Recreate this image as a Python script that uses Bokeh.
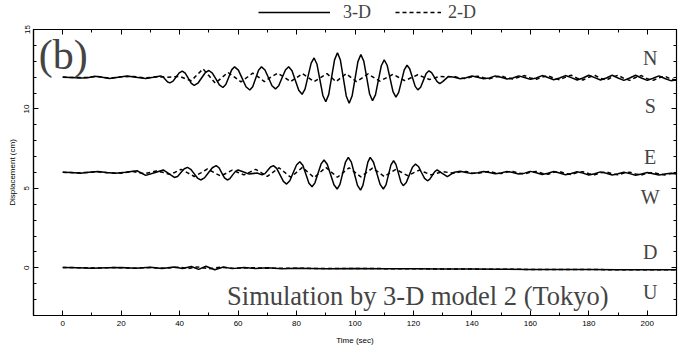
from bokeh.plotting import figure
from bokeh.models import (Range1d, SingleIntervalTicker, LinearAxis, Label, Legend, LegendItem,
                          CustomJSTickFormatter)
from bokeh.layouts import column
from bokeh.embed import file_html
from bokeh.resources import INLINE

# ---------------- data ----------------
# N-S component, offset 12 cm
ns3_t = [0, 3, 6, 8.5, 11, 13.5, 16, 19, 22, 25, 28.4, 31, 33.5, 34.3, 35.1, 35.9, 36.7,
         37.75, 38.8, 39.85, 40.9, 41.9, 43.0, 44.0, 45.0, 46.25, 47.5, 48.75, 50.0,
         51.2, 52.4, 53.6, 54.8, 55.8, 56.8, 57.8, 58.8, 60.1, 61.4, 62.7, 64.0,
         65, 66, 67, 68, 69.2, 70.4, 71.6, 72.8, 73.9, 75.05, 76.2, 77.3,
         78.45, 79.6, 80.75, 81.9, 82.9, 83.95, 85.0, 86, 87, 88, 89, 90,
         91, 92, 93, 94, 95, 96, 97, 98, 99, 100, 101, 102, 103, 104, 105, 106,
         107, 108, 109, 110, 111, 112, 113, 114, 114.95, 115.9, 116.85, 117.8,
         118.7, 119.65, 120.6, 121.5, 122.45, 123.4, 124.35, 125.3, 126.2, 127.15, 128.1, 129,
         130, 132, 134, 136, 138, 140, 142, 144, 146, 148, 150, 152, 154, 156, 158, 160,
         162, 164, 166, 168, 170, 172, 174, 176, 178, 180, 182, 184, 186, 188, 190, 192,
         194, 196, 198, 200, 202, 204, 206, 208, 210]
ns3_v = [12.00, 11.98, 11.94, 11.97, 12.06, 12.00, 11.92, 12.00, 12.08, 12.00, 11.92, 12.00, 12.08, 12.02, 11.86, 11.70, 11.64,
         11.75, 12.01, 12.27, 12.38, 12.25, 11.93, 11.61, 11.48, 11.62, 11.95, 12.28, 12.42,
         12.26, 11.89, 11.51, 11.35, 11.54, 12.00, 12.46, 12.65, 12.44, 11.92, 11.40, 11.19,
         11.40, 11.92, 12.44, 12.65, 12.45, 11.96, 11.46, 11.26, 11.46, 11.96, 12.45, 12.65,
         12.40, 11.79, 11.17, 10.92, 11.25, 12.07, 12.88, 13.21, 12.81, 11.83, 10.85, 10.45,
         10.90, 12.00, 13.09, 13.54, 13.08, 11.95, 10.82, 10.36, 10.81, 11.90, 12.98, 13.43, 13.01, 11.98, 10.94, 10.52,
         10.89, 11.81, 12.72, 13.09, 12.75, 11.92, 11.09, 10.75, 11.04, 11.75, 12.46, 12.75,
         12.53, 11.98, 11.42, 11.20, 11.37, 11.80, 12.23, 12.40, 12.28, 12.00, 11.72, 11.60,
         11.72, 12.05, 12.00, 11.90, 11.96, 12.07, 12.00, 11.90, 11.95, 12.08, 12.00, 11.88, 11.95, 12.08, 11.98, 11.86,
         11.95, 12.10, 11.98, 11.84, 11.95, 12.10, 11.97, 11.82, 11.95, 12.12, 11.97, 11.82, 11.95, 12.12, 11.95, 11.80,
         11.95, 12.12, 11.95, 11.80, 11.93, 12.08, 11.92, 11.78, 11.82]

ns2_t = [0, 4, 8, 12, 16, 20, 24, 28, 32, 36, 40, 42, 44, 46, 48, 50, 52.2, 54.3, 56.5, 58.8,
         61, 63, 65, 67, 69, 71.2, 73.5, 75.8, 78, 80, 82, 84, 86, 88.2, 90.4, 92, 93.5, 95.2,
         97, 98.7, 100.5, 102.5, 104.5, 106.5, 108.5, 110.7, 113, 115, 117, 119.2, 121.5, 123.5,
         125.5, 127.3, 129, 132, 134, 136, 138, 140, 142, 144, 146, 148, 150, 152, 154, 156,
         158, 160, 162, 164, 166, 168, 170, 172, 174, 176, 178, 180, 182, 184, 186, 188, 190,
         192, 194, 196, 198, 200, 202, 204, 206, 208, 210]
ns2_v = [12.01, 11.97, 11.98, 12.04, 11.94, 12.02, 12.05, 11.95, 12.02, 12.00, 12.05, 11.90, 11.78, 12.15, 12.52, 12.10, 11.62, 11.95, 12.30, 12.00,
         11.70, 11.98, 12.25, 12.00, 11.72, 12.00, 12.25, 12.00, 11.72, 11.97, 12.22, 11.97, 11.72, 11.97, 12.22, 11.97, 11.72, 11.97,
         12.22, 11.97, 11.72, 11.96, 12.20, 11.97, 11.75, 11.96, 12.18, 11.98, 11.78, 11.96, 12.15, 12.00,
         11.85, 11.95, 12.05, 12.02, 12.04, 11.94, 11.92, 12.02, 12.06, 11.96, 11.90, 12.00, 12.08, 11.95, 11.88, 12.00,
         12.10, 11.95, 11.86, 12.00, 12.10, 11.94, 11.84, 12.00, 12.12, 11.93, 11.82, 12.00, 12.12, 11.92, 11.82, 12.00, 12.12,
         11.92, 11.80, 11.98, 12.10, 11.90, 11.80, 11.96, 12.06, 11.88, 11.82]

# E-W component, offset 6 cm
ew3_t = [0, 3, 6, 9, 12, 15, 18, 21.5, 25.4, 28.4, 31.4, 34.4, 36.3, 38.2, 39.3, 40.45, 41.6, 42.7,
         43.8, 44.95, 46.1, 47.2, 48.5, 49.85, 51.2, 52.5, 53.45, 54.4, 55.35, 56.3, 57.2, 58.15, 59.1, 60,
         61.9, 63.8, 66.5, 68.2, 69.2, 70.15, 71.1, 72.1, 73.2, 74.35, 75.5, 76.6, 77.7, 78.85, 80.0, 81.1,
         82.15, 83.2, 84.25, 85.3, 86.3, 87.35, 88.4, 89.4, 90.5, 91.65, 92.8, 93.9, 94.85, 95.8, 96.75, 97.7,
         98.75, 99.8, 100.85, 101.9, 102.7, 103.55, 104.4, 105.2, 106.3, 107.45, 108.6, 109.7,
         110.6, 111.45, 112.3, 113.2, 114.0, 114.85, 115.7, 116.5, 117.55, 118.6, 119.65, 120.7,
         121.7, 122.75, 123.8, 124.8, 125.6, 126.45, 127.3, 128.1, 129.85, 131.6,
         134, 136, 138, 140, 142, 144, 146, 148, 150, 152, 154, 156, 158, 160, 162, 164, 166, 168,
         170, 172, 174, 176, 178, 180, 182, 184, 186, 188, 190, 192, 194, 196, 198, 200, 202, 204, 206, 208, 210]
ew3_v = [6.02, 6.00, 5.96, 6.02, 6.06, 6.00, 5.95, 6.02, 6.11, 5.82, 5.99, 6.16, 5.93, 5.69, 5.75, 6.00, 6.24, 6.32,
         6.20, 5.93, 5.65, 5.53, 5.66, 5.98, 6.30, 6.43, 6.30, 5.98, 5.66, 5.53, 5.62, 5.85, 6.07, 6.16,
         6.03, 5.90, 5.97, 5.85, 5.93, 6.14, 6.35, 6.43, 6.26, 5.85, 5.44, 5.27, 5.48, 5.98, 6.47, 6.68,
         6.45, 5.89, 5.33, 5.10, 5.35, 5.95, 6.54, 6.79, 6.52, 5.88, 5.23, 4.96, 5.25, 5.96, 6.66, 6.95,
         6.65, 5.92, 5.19, 4.89, 5.19, 5.92, 6.65, 6.95, 6.66, 5.96, 5.25, 4.96,
         5.22, 5.85, 6.48, 6.74, 6.51, 5.96, 5.40, 5.17, 5.37, 5.85, 6.33, 6.53,
         6.38, 6.00, 5.63, 5.48, 5.58, 5.82, 6.06, 6.16, 5.95, 5.74,
         6.02, 6.08, 6.00, 5.93, 5.98, 6.06, 6.00, 5.92, 5.97, 6.07, 6.00, 5.90, 5.96, 6.07, 5.98, 5.88, 5.95, 6.06,
         5.97, 5.86, 5.94, 6.05, 5.96, 5.84, 5.92, 6.04, 5.95, 5.84, 5.92, 6.02, 5.93, 5.83, 5.90, 6.00, 5.92, 5.84, 5.90, 5.95, 5.90]

ew2_t = [0, 4, 8, 12, 16, 20, 24, 28, 32, 34.5, 36.5, 38.5, 40.5, 42.75, 45, 47.25, 49.5, 51.75, 54,
         56, 58, 60, 62, 64, 66, 68, 70, 72, 74, 76, 78, 80, 82, 84, 86, 88, 90, 92, 94, 96, 98,
         100, 102, 104, 106, 108, 110, 112, 114, 116, 118, 120, 122, 124, 126, 128, 130, 132, 134,
         136, 138, 140, 142, 144, 146, 148, 150, 152, 154, 156, 158, 160, 162, 164, 166, 168, 170,
         172, 174, 176, 178, 180, 182, 184, 186, 188, 190, 192, 194, 196, 198, 200, 202, 204, 206, 208, 210]
ew2_v = [6.02, 5.98, 6.00, 6.04, 5.98, 5.96, 6.06, 5.92, 6.10, 6.00, 5.88, 6.02, 6.20, 5.98, 5.75, 5.98, 6.22, 6.00, 5.78,
         5.96, 6.15, 6.00, 5.85, 6.02, 6.20, 5.98, 5.75, 6.02, 6.30, 6.00, 5.70, 6.01, 6.32, 6.00, 5.68, 6.00, 6.32, 6.01, 5.70, 6.00, 6.30,
         6.01, 5.72, 6.00, 6.28, 6.02, 5.75, 5.98, 6.20, 6.00, 5.80, 5.98, 6.15, 6.00, 5.85, 5.95, 6.05, 6.00, 5.95,
         6.04, 6.06, 5.97, 5.94, 6.02, 6.07, 5.97, 5.93, 6.03, 6.07, 5.96, 5.91, 6.02, 6.07, 5.95, 5.89, 6.01, 6.06,
         5.94, 5.87, 6.00, 6.05, 5.93, 5.86, 5.98, 6.04, 5.92, 5.85, 5.97, 6.02, 5.91, 5.84, 5.95, 6.00, 5.90, 5.85, 5.93, 5.94, 5.90]

# U-D component, offset 0 cm
ud3_t = [0, 5, 10, 15, 20, 25, 30, 34, 38, 41, 44, 46.5, 49, 52, 55, 58, 62, 66, 70, 75, 80,
         90, 100, 110, 120, 130, 140, 150, 160, 170, 180, 190, 200, 210]
ud3_v = [0.02, 0.00, -0.02, 0.00, 0.02, -0.03, 0.03, -0.04, 0.05, -0.04, 0.08, -0.10, 0.10, -0.12, 0.05, -0.05, 0.02, -0.04, 0.00, -0.05, -0.02,
         -0.05, -0.04, -0.05, -0.06, -0.07, -0.08, -0.09, -0.10, -0.10, -0.11, -0.12, -0.12, -0.12]
ud2_t = [0, 6, 12, 18, 24, 30, 35, 40, 43, 46, 50, 54, 58, 64, 70, 80, 90, 100, 120, 140, 160, 180, 200, 210]
ud2_v = [0.02, 0.01, -0.01, 0.02, -0.02, 0.02, -0.03, 0.04, -0.05, 0.06, -0.06, 0.04, -0.03, 0.01, -0.03, -0.03, -0.04, -0.04,
         -0.06, -0.08, -0.10, -0.11, -0.12, -0.12]

x_ticks_major = 20
y_ticks_major = 5
legend_labels = ["3-D", "2-D"]
comp_labels = ["N", "S", "E", "W", "D", "U"]
comp_y = [13.2, 10.2, 6.95, 4.45, 1.0, -1.55]
caption = "Simulation by 3-D model 2 (Tokyo)"

sans = "Liberation Sans"
serif = "Liberation Serif"
lw = 1.5
dash = "4 3"

# ---------------- legend strip (top) ----------------
LH = 24
lf = figure(width=689, height=LH, output_backend="svg", toolbar_location=None,
            x_range=Range1d(0, 689), y_range=Range1d(0, LH),
            x_axis_location=None, y_axis_location=None,
            min_border=0, min_border_left=0, min_border_right=0, min_border_top=0, min_border_bottom=0)
lf.grid.visible = False
lf.outline_line_color = None
lf.background_fill_color = "white"
lf.border_fill_color = "white"
# legend keys only: their data lie off the visible strip
g3 = lf.line(x=[-20, -10], y=[-20, -20], line_color="black", line_width=lw)
g2 = lf.line(x=[-20, -10], y=[-20, -20], line_color="black", line_width=lw, line_dash=dash)
leg_style = dict(orientation="horizontal", label_text_font=serif, label_text_font_size="18px",
                 glyph_height=20, label_height=20,
                 padding=0, margin=0, border_line_color=None, background_fill_alpha=0)
lf.add_layout(Legend(items=[LegendItem(label=legend_labels[0], renderers=[g3])],
                     location=(225, 1.5), glyph_width=72, label_standoff=13, **leg_style))
lf.add_layout(Legend(items=[LegendItem(label=legend_labels[1], renderers=[g2])],
                     location=(362, 1.5), glyph_width=46, label_standoff=7, **leg_style))

# ---------------- main figure ----------------
p = figure(width=689, height=353 - LH, output_backend="svg", toolbar_location=None,
           x_range=Range1d(-10, 210), y_range=Range1d(-3, 15),
           min_border_left=33, min_border_right=13, min_border_top=29 - LH, min_border_bottom=38,
           x_axis_label="Time (sec)", y_axis_label="Displacement (cm)")
p.background_fill_color = "white"
p.border_fill_color = "white"
p.grid.visible = False
p.outline_line_color = "black"
p.outline_line_width = 1.2

p.xaxis.ticker = SingleIntervalTicker(interval=x_ticks_major, num_minor_ticks=2)
p.yaxis.ticker = SingleIntervalTicker(interval=y_ticks_major, num_minor_ticks=5)
for ax in (p.xaxis[0], p.yaxis[0]):
    ax.major_tick_in = 5
    ax.major_tick_out = 0
    ax.minor_tick_in = 3
    ax.minor_tick_out = 0
    ax.axis_line_color = "black"
    ax.axis_line_width = 1.2
    ax.major_tick_line_color = "black"
    ax.minor_tick_line_color = "black"
    ax.major_label_text_font = sans
    ax.major_label_text_font_size = "8px"
    ax.major_label_text_color = "black"
    ax.axis_label_text_font = sans
    ax.axis_label_text_font_size = "8px"
    ax.axis_label_text_font_style = "normal"
    ax.axis_label_text_color = "black"
p.yaxis.major_label_orientation = "vertical"
p.yaxis.major_label_standoff = 4
p.yaxis.axis_label_standoff = 5
p.xaxis.major_label_standoff = 5
p.xaxis.axis_label_standoff = 7

# mirrored tick axes (top / right), no labels
top = LinearAxis(ticker=SingleIntervalTicker(interval=x_ticks_major, num_minor_ticks=2),
                 formatter=CustomJSTickFormatter(code="return ''"), major_tick_in=5, major_tick_out=0,
                 minor_tick_in=3, minor_tick_out=0, axis_line_color="black",
                 major_label_standoff=0, major_label_text_font_size="1px")
right = LinearAxis(ticker=SingleIntervalTicker(interval=y_ticks_major, num_minor_ticks=5),
                   formatter=CustomJSTickFormatter(code="return ''"), major_tick_in=5, major_tick_out=0,
                   minor_tick_in=3, minor_tick_out=0, axis_line_color="black",
                   major_label_standoff=0, major_label_text_font_size="1px")
p.add_layout(top, "above")
p.add_layout(right, "right")

p.line(ns3_t, ns3_v, line_color="black", line_width=lw)
p.line(ns2_t, ns2_v, line_color="black", line_width=lw, line_dash=dash)
p.line(ew3_t, ew3_v, line_color="black", line_width=lw)
p.line(ew2_t, ew2_v, line_color="black", line_width=lw, line_dash=dash)
p.line(ud3_t, ud3_v, line_color="black", line_width=lw)
p.line(ud2_t, ud2_v, line_color="black", line_width=lw, line_dash=dash)

p.add_layout(Label(x=-8.2, y=13.4, text="(b)", text_font=serif, text_font_size="42px",
                   text_baseline="middle", text_align="left"))
for s, yy in zip(comp_labels, comp_y):
    p.add_layout(Label(x=201, y=yy, text=s, text_font=serif, text_font_size="20px",
                       text_baseline="middle", text_align="center"))
p.add_layout(Label(x=121.5, y=-1.8, text=caption, text_font=serif, text_font_size="26.5px",
                   text_baseline="middle", text_align="center"))

open("out.html", "w").write(file_html(column(lf, p, spacing=0), INLINE))
